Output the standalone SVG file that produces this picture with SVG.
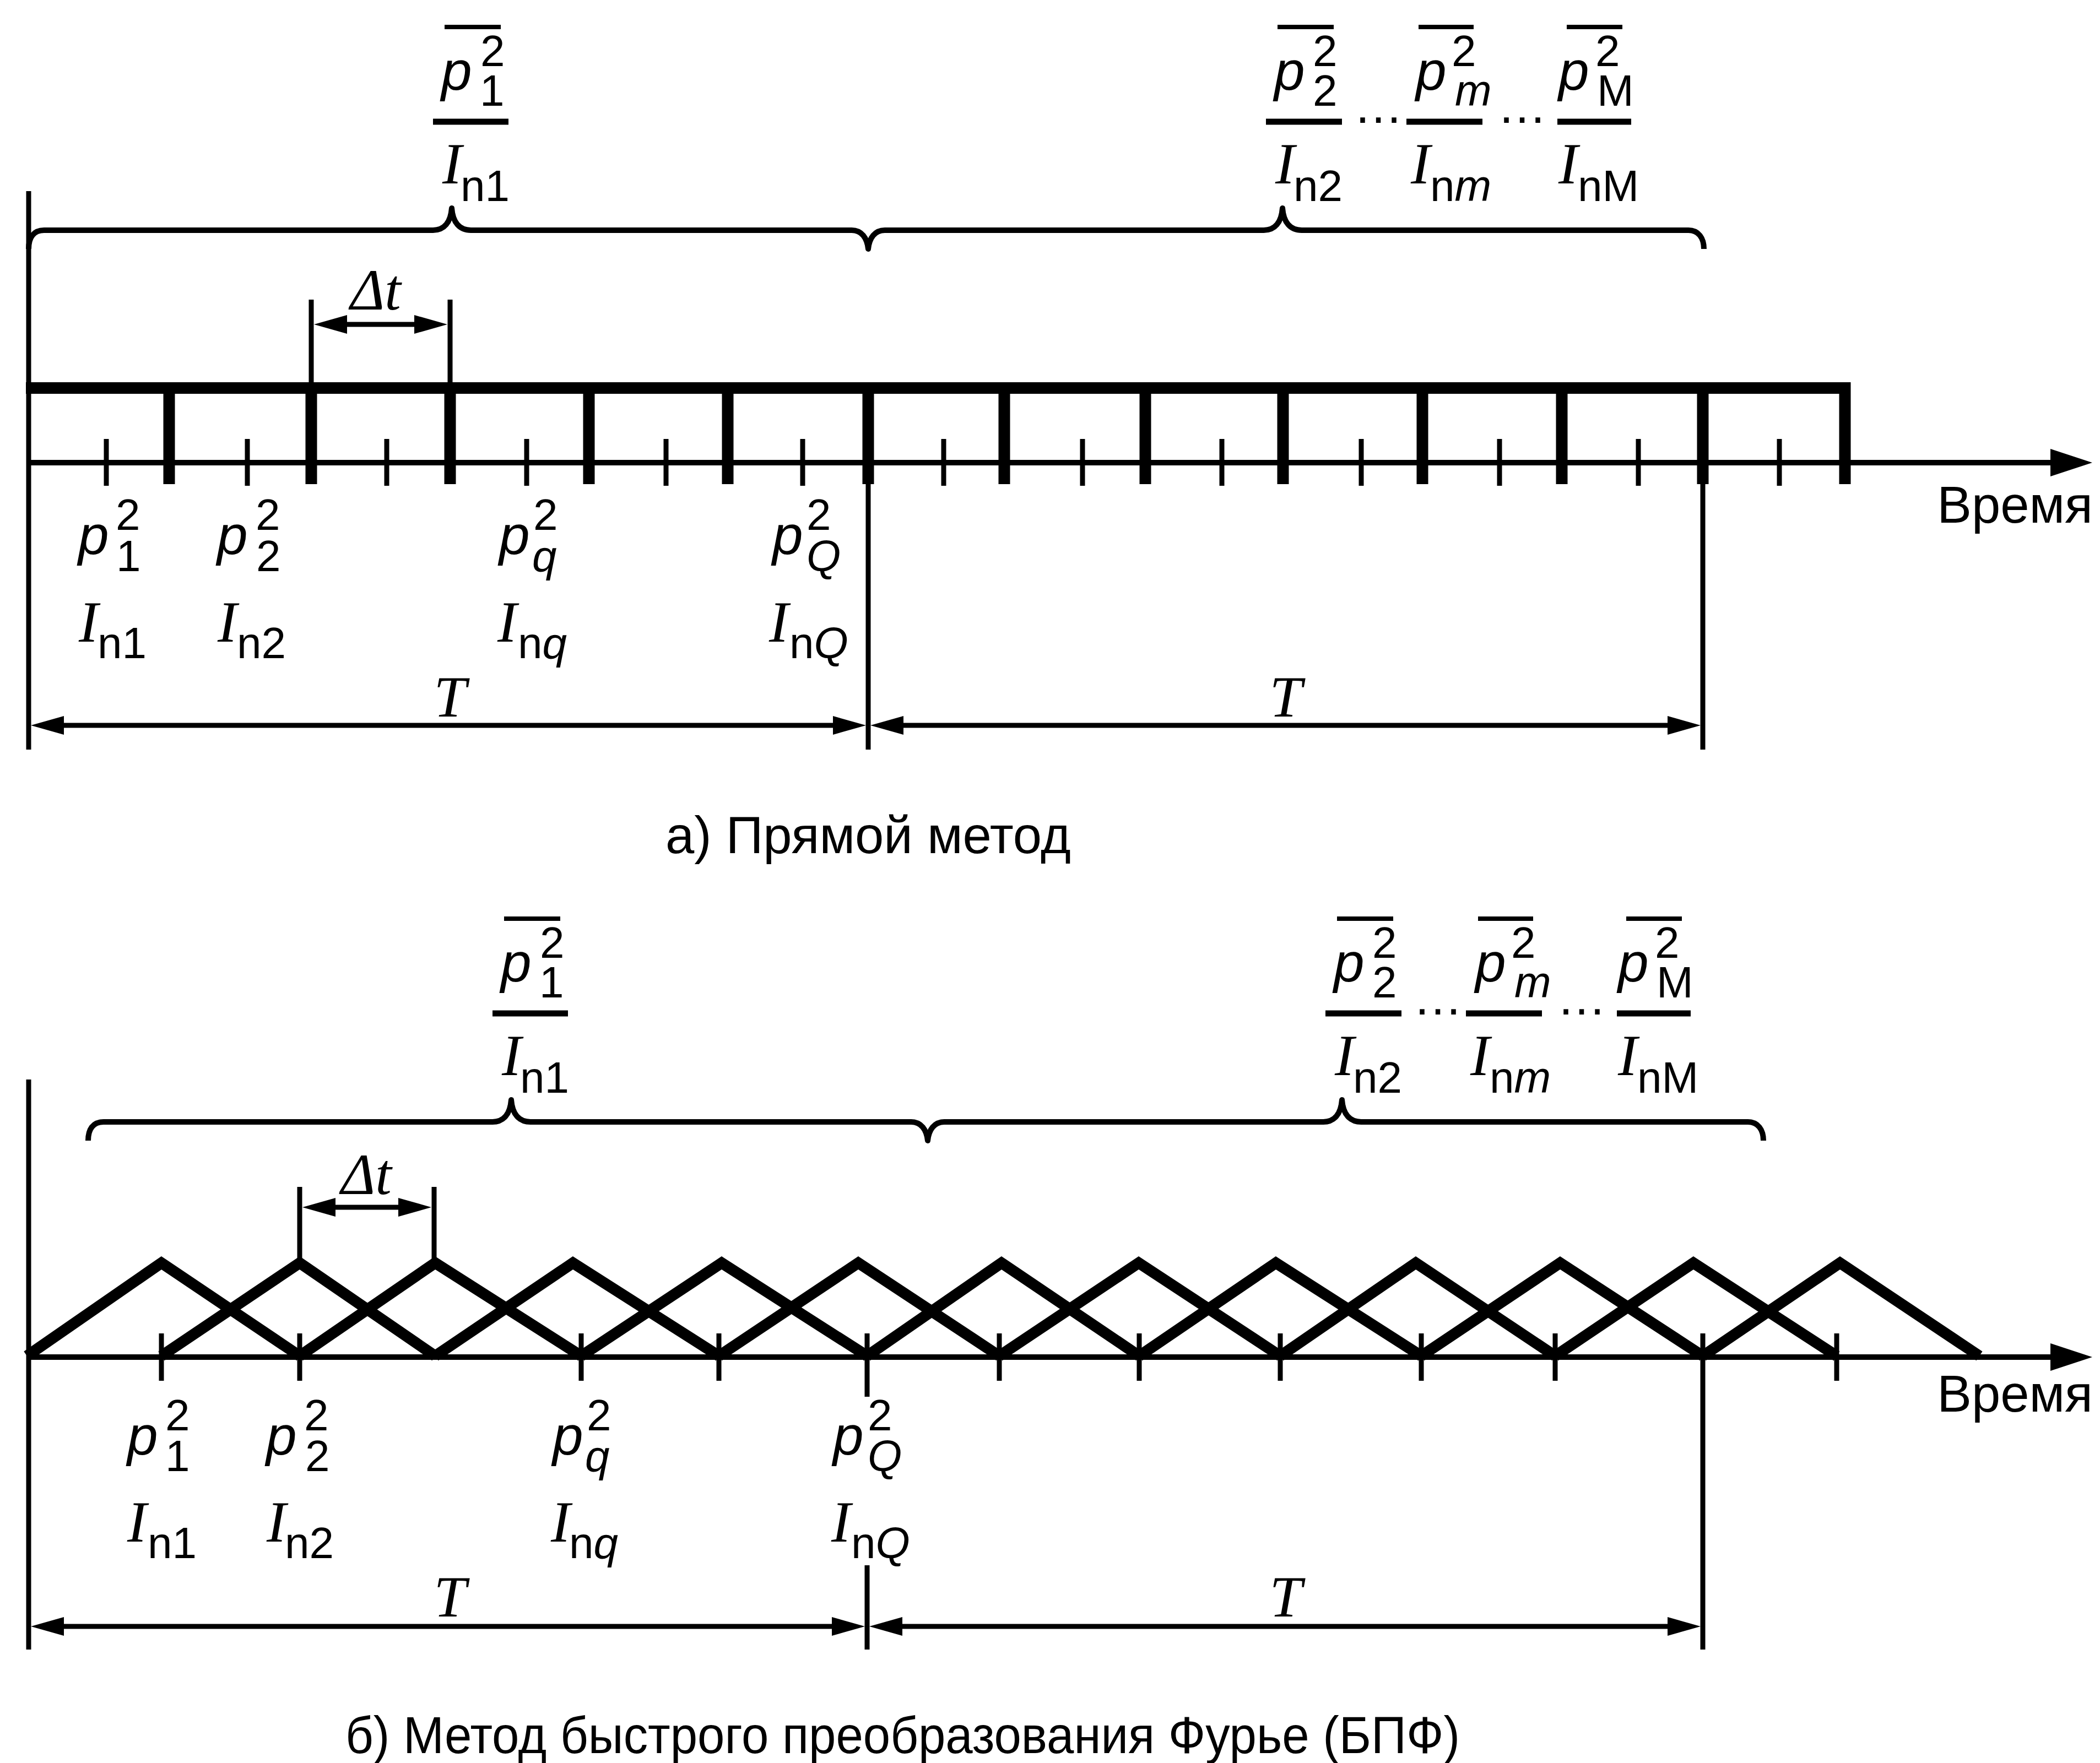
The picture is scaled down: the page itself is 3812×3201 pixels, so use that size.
<svg xmlns="http://www.w3.org/2000/svg" width="3812" height="3201" viewBox="0 0 3812 3201">
<style>
.ln{stroke:#000;stroke-width:9;fill:none}
.thk{stroke:#000;stroke-width:21;fill:none}
.tri{stroke:#000;stroke-width:20;fill:none;stroke-linejoin:miter;stroke-miterlimit:10}
.br{stroke:#000;stroke-width:10;fill:none;stroke-linejoin:round}
.ov{stroke:#000;stroke-width:8}
.fb{stroke:#000;stroke-width:11}
.dim{stroke:#000;stroke-width:9;marker-start:url(#ah);marker-end:url(#ah)}
.axis{stroke:#000;stroke-width:10;marker-end:url(#ax)}
text{fill:#000}
.p{font-family:"Liberation Sans",Arial,sans-serif;font-style:italic;font-size:100px}
.s{font-family:"Liberation Sans",Arial,sans-serif;font-size:80px}
.si{font-style:italic}
.I{font-family:"Liberation Serif","Times New Roman",serif;font-style:italic;font-size:106px}
.dots{font-family:"Liberation Sans",Arial,sans-serif;font-size:90px}
.cap{font-family:"Liberation Sans",Arial,sans-serif;font-size:94px}
</style>
<defs>
<marker id="ah" markerUnits="userSpaceOnUse" viewBox="0 0 60 34" markerWidth="60" markerHeight="34" refX="30" refY="17" orient="auto-start-reverse"><path d="M0,0 L60,17 L0,34 Z" fill="#000"/></marker>
<marker id="ax" markerUnits="userSpaceOnUse" viewBox="0 0 76 50" markerWidth="76" markerHeight="50" refX="30" refY="25" orient="auto"><path d="M0,0 L76,25 L0,50 Z" fill="#000"/></marker>
</defs>

<!-- ===================== Part a ===================== -->
<g id="a-frame">
<line class="ln" x1="52" y1="347" x2="52" y2="1361"/>
<path class="thk" d="M47,704.5 H3349 V879"/>
<g id="a-thick-ticks" class="thk">
<line x1="307" y1="700" x2="307" y2="879"/>
<line x1="565" y1="700" x2="565" y2="879"/>
<line x1="817" y1="700" x2="817" y2="879"/>
<line x1="1069" y1="700" x2="1069" y2="879"/>
<line x1="1321" y1="700" x2="1321" y2="879"/>
<line x1="1576" y1="700" x2="1576" y2="879"/>
<line x1="1823" y1="700" x2="1823" y2="879"/>
<line x1="2079" y1="700" x2="2079" y2="879"/>
<line x1="2329" y1="700" x2="2329" y2="879"/>
<line x1="2582" y1="700" x2="2582" y2="879"/>
<line x1="2835" y1="700" x2="2835" y2="879"/>
<line x1="3091" y1="700" x2="3091" y2="879"/>
</g>
<g id="a-thin-ticks" class="ln">
<line x1="193" y1="797" x2="193" y2="882"/>
<line x1="449" y1="797" x2="449" y2="882"/>
<line x1="702" y1="797" x2="702" y2="882"/>
<line x1="956" y1="797" x2="956" y2="882"/>
<line x1="1209" y1="797" x2="1209" y2="882"/>
<line x1="1457" y1="797" x2="1457" y2="882"/>
<line x1="1713" y1="797" x2="1713" y2="882"/>
<line x1="1965" y1="797" x2="1965" y2="882"/>
<line x1="2218" y1="797" x2="2218" y2="882"/>
<line x1="2471" y1="797" x2="2471" y2="882"/>
<line x1="2722" y1="797" x2="2722" y2="882"/>
<line x1="2974" y1="797" x2="2974" y2="882"/>
<line x1="3230" y1="797" x2="3230" y2="882"/>
</g>
<line class="axis" x1="52" y1="840" x2="3752" y2="840"/>
<line class="ln" x1="1576" y1="870" x2="1576" y2="1361"/>
<line class="ln" x1="3091" y1="870" x2="3091" y2="1361"/>
<text class="cap" x="3799" y="949" text-anchor="end">Время</text>
</g>

<g id="a-brace-labels">
<path class="br" d="M52,452 C52,432 60,418 80,418 H786 C806,418 818,404 820,378 C822,404 834,418 855,418 H1546 C1564,418 1574,432 1576,452 C1578,432 1588,418 1606,418 H2294 C2314,418 2326,404 2328,378 C2330,404 2342,418 2363,418 H3065 C3083,418 3093,432 3093,452"/>
<g id="a-top-1">
<line class="ov" x1="807" y1="49" x2="909" y2="49"/>
<text class="p" x="801" y="163">p</text>
<text class="s" x="872" y="120">2</text>
<text class="s" x="871" y="192">1</text>
<line class="fb" x1="786" y1="221" x2="923" y2="221"/>
<text class="I" x="803" y="333">I</text>
<text class="s" x="836" y="365">n1</text>
</g>
<g id="a-top-2">
<line class="ov" x1="2319" y1="49" x2="2421" y2="49"/>
<text class="p" x="2313" y="163">p</text>
<text class="s" x="2383" y="120">2</text>
<text class="s" x="2383" y="192">2</text>
<line class="fb" x1="2298" y1="221" x2="2436" y2="221"/>
<text class="I" x="2315" y="333">I</text>
<text class="s" x="2348" y="365">n2</text>
</g>
<text class="dots" x="2457" y="223">…</text>
<g id="a-top-m">
<line class="ov" x1="2575" y1="49" x2="2675" y2="49"/>
<text class="p" x="2570" y="163">p</text>
<text class="s" x="2635" y="120">2</text>
<text class="s si" x="2641" y="192">m</text>
<line class="fb" x1="2553" y1="221" x2="2691" y2="221"/>
<text class="I" x="2561" y="333">I</text>
<text class="s" x="2596" y="365">n<tspan class="si">m</tspan></text>
</g>
<text class="dots" x="2718" y="223">…</text>
<g id="a-top-M">
<line class="ov" x1="2844" y1="49" x2="2945" y2="49"/>
<text class="p" x="2829" y="163">p</text>
<text class="s" x="2896" y="120">2</text>
<text class="s" x="2899" y="192">M</text>
<line class="fb" x1="2827" y1="221" x2="2961" y2="221"/>
<text class="I" x="2829" y="333">I</text>
<text class="s" x="2864" y="365">nM</text>
</g>
</g>

<g id="a-dims">
<line class="ln" x1="565" y1="544" x2="565" y2="700"/>
<line class="ln" x1="817" y1="544" x2="817" y2="700"/>
<line class="dim" x1="600" y1="589" x2="782" y2="589"/>
<text class="I" x="636" y="562">Δt</text>
<line class="dim" x1="86" y1="1317" x2="1542" y2="1317"/>
<line class="dim" x1="1610" y1="1317" x2="3057" y2="1317"/>
<text class="I" x="817" y="1301" text-anchor="middle">T</text>
<text class="I" x="2334" y="1301" text-anchor="middle">T</text>
</g>

<g id="a-bottom-labels">
<g id="a-l1">
<text class="p" x="142" y="1006">p</text>
<text class="s" x="210" y="962">2</text>
<text class="s" x="211" y="1037">1</text>
<text class="I" x="143" y="1165">I</text>
<text class="s" x="177" y="1195">n1</text>
</g>
<g id="a-l2">
<text class="p" x="394" y="1006">p</text>
<text class="s" x="464" y="962">2</text>
<text class="s" x="465" y="1037">2</text>
<text class="I" x="395" y="1165">I</text>
<text class="s" x="430" y="1195">n2</text>
</g>
<g id="a-lq">
<text class="p" x="906" y="1006">p</text>
<text class="s" x="968" y="962">2</text>
<text class="s si" x="966" y="1037">q</text>
<text class="I" x="903" y="1165">I</text>
<text class="s" x="940" y="1195">n<tspan class="si">q</tspan></text>
</g>
<g id="a-lQ">
<text class="p" x="1402" y="1006">p</text>
<text class="s" x="1464" y="962">2</text>
<text class="s si" x="1464" y="1037">Q</text>
<text class="I" x="1396" y="1165">I</text>
<text class="s" x="1433" y="1195">n<tspan class="si">Q</tspan></text>
</g>
</g>
<text class="cap" x="1208" y="1549">а) Прямой метод</text>

<!-- ===================== Part b ===================== -->
<g id="b-frame">
<line class="ln" x1="52" y1="1960" x2="52" y2="2995"/>
<line class="axis" x1="52" y1="2464" x2="3752" y2="2464"/>
<g id="b-ticks" class="ln">
<line x1="293" y1="2421" x2="293" y2="2507"/>
<line x1="544" y1="2421" x2="544" y2="2507"/>
<line x1="1055" y1="2421" x2="1055" y2="2507"/>
<line x1="1305" y1="2421" x2="1305" y2="2507"/>
<line x1="1574" y1="2421" x2="1574" y2="2536"/>
<line x1="1814" y1="2421" x2="1814" y2="2507"/>
<line x1="2068" y1="2421" x2="2068" y2="2507"/>
<line x1="2324" y1="2421" x2="2324" y2="2507"/>
<line x1="2580" y1="2421" x2="2580" y2="2507"/>
<line x1="2823" y1="2421" x2="2823" y2="2507"/>
<line x1="3091" y1="2421" x2="3091" y2="2995"/>
<line x1="3334" y1="2421" x2="3334" y2="2507"/>
<line x1="1574" y1="2842" x2="1574" y2="2995"/>
</g>
<g id="b-triangles" class="tri">
<polyline points="49,2462 293,2293 544,2462"/>
<polyline points="293,2462 544,2293 790,2462"/>
<polyline points="544,2462 790,2293 1055,2462"/>
<polyline points="790,2462 1040,2293 1305,2462"/>
<polyline points="1055,2462 1310,2293 1574,2462"/>
<polyline points="1305,2462 1558,2293 1814,2462"/>
<polyline points="1574,2462 1818,2293 2068,2462"/>
<polyline points="1814,2462 2067,2293 2324,2462"/>
<polyline points="2068,2462 2316,2293 2580,2462"/>
<polyline points="2324,2462 2570,2293 2823,2462"/>
<polyline points="2580,2462 2832,2293 3091,2462"/>
<polyline points="2823,2462 3074,2293 3334,2462"/>
<polyline points="3091,2462 3340,2293 3593,2462"/>
</g>
<text class="cap" x="3799" y="2563" text-anchor="end">Время</text>
</g>

<g id="b-brace-labels" transform="translate(108,1619)">
<path class="br" d="M52,452 C52,432 60,418 80,418 H786 C806,418 818,404 820,378 C822,404 834,418 855,418 H1546 C1564,418 1574,432 1576,452 C1578,432 1588,418 1606,418 H2294 C2314,418 2326,404 2328,378 C2330,404 2342,418 2363,418 H3065 C3083,418 3093,432 3093,452"/>
<g id="b-top-1">
<line class="ov" x1="807" y1="49" x2="909" y2="49"/>
<text class="p" x="801" y="163">p</text>
<text class="s" x="872" y="120">2</text>
<text class="s" x="871" y="192">1</text>
<line class="fb" x1="786" y1="221" x2="923" y2="221"/>
<text class="I" x="803" y="333">I</text>
<text class="s" x="836" y="365">n1</text>
</g>
<g id="b-top-2">
<line class="ov" x1="2319" y1="49" x2="2421" y2="49"/>
<text class="p" x="2313" y="163">p</text>
<text class="s" x="2383" y="120">2</text>
<text class="s" x="2383" y="192">2</text>
<line class="fb" x1="2298" y1="221" x2="2436" y2="221"/>
<text class="I" x="2315" y="333">I</text>
<text class="s" x="2348" y="365">n2</text>
</g>
<text class="dots" x="2457" y="223">…</text>
<g id="b-top-m">
<line class="ov" x1="2575" y1="49" x2="2675" y2="49"/>
<text class="p" x="2570" y="163">p</text>
<text class="s" x="2635" y="120">2</text>
<text class="s si" x="2641" y="192">m</text>
<line class="fb" x1="2553" y1="221" x2="2691" y2="221"/>
<text class="I" x="2561" y="333">I</text>
<text class="s" x="2596" y="365">n<tspan class="si">m</tspan></text>
</g>
<text class="dots" x="2718" y="223">…</text>
<g id="b-top-M">
<line class="ov" x1="2844" y1="49" x2="2945" y2="49"/>
<text class="p" x="2829" y="163">p</text>
<text class="s" x="2896" y="120">2</text>
<text class="s" x="2899" y="192">M</text>
<line class="fb" x1="2827" y1="221" x2="2961" y2="221"/>
<text class="I" x="2829" y="333">I</text>
<text class="s" x="2864" y="365">nM</text>
</g>
</g>

<g id="b-dims">
<line class="ln" x1="544" y1="2155" x2="544" y2="2290"/>
<line class="ln" x1="788" y1="2155" x2="788" y2="2290"/>
<line class="dim" x1="579" y1="2192" x2="753" y2="2192"/>
<text class="I" x="619" y="2168">Δt</text>
<line class="dim" x1="86" y1="2953" x2="1540" y2="2953"/>
<line class="dim" x1="1608" y1="2953" x2="3057" y2="2953"/>
<text class="I" x="817" y="2935" text-anchor="middle">T</text>
<text class="I" x="2334" y="2935" text-anchor="middle">T</text>
</g>

<g id="b-bottom-labels">
<g id="b-l1">
<text class="p" x="231" y="2641">p</text>
<text class="s" x="300" y="2597">2</text>
<text class="s" x="300" y="2671">1</text>
<text class="I" x="231" y="2799">I</text>
<text class="s" x="268" y="2829">n1</text>
</g>
<g id="b-l2">
<text class="p" x="483" y="2641">p</text>
<text class="s" x="552" y="2597">2</text>
<text class="s" x="554" y="2671">2</text>
<text class="I" x="484" y="2799">I</text>
<text class="s" x="517" y="2829">n2</text>
</g>
<g id="b-lq">
<text class="p" x="1003" y="2641">p</text>
<text class="s" x="1065" y="2597">2</text>
<text class="s si" x="1062" y="2671">q</text>
<text class="I" x="1000" y="2799">I</text>
<text class="s" x="1033" y="2829">n<tspan class="si">q</tspan></text>
</g>
<g id="b-lQ">
<text class="p" x="1512" y="2641">p</text>
<text class="s" x="1575" y="2597">2</text>
<text class="s si" x="1575" y="2671">Q</text>
<text class="I" x="1509" y="2799">I</text>
<text class="s" x="1545" y="2829">n<tspan class="si">Q</tspan></text>
</g>
</g>
<text class="cap" x="627" y="3183" font-size="92" textLength="2023" lengthAdjust="spacingAndGlyphs">б) Метод быстрого преобразования Фурье (БПФ)</text>
</svg>
